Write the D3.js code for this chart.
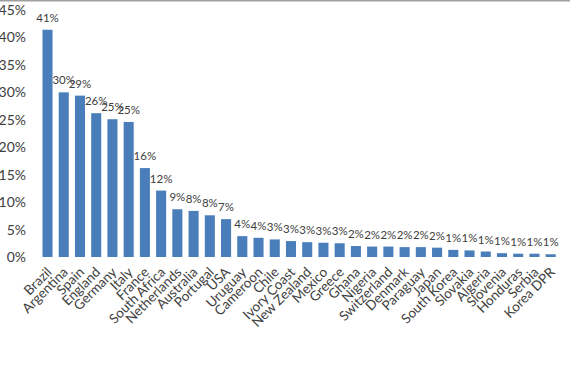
<!DOCTYPE html>
<html>
<head>
<meta charset="utf-8">
<script src="https://cdn.jsdelivr.net/npm/d3@7"></script>
<style>
  body { margin: 0; background: #fff; }
  text { font-family: Lato, "Open Sans", sans-serif; fill: #404040; }
</style>
</head>
<body>
<script>
var countries = ["Brazil","Argentina","Spain","England","Germany","Italy","France","South Africa",
  "Netherlands","Australia","Portugal","USA","Uruguay","Cameroon","Chile","Ivory Coast",
  "New Zealand","Mexico","Greece","Ghana","Nigeria","Switzerland","Denmark","Paraguay",
  "Japan","South Korea","Slovakia","Algeria","Slovenia","Honduras","Serbia","Korea DPR"];
var values = [41.4, 30.0, 29.4, 26.2, 25.1, 24.6, 16.2, 12.1,
  8.7, 8.4, 7.6, 6.9, 3.8, 3.5, 3.2, 2.9,
  2.7, 2.6, 2.5, 2.0, 1.9, 1.9, 1.8, 1.8,
  1.7, 1.3, 1.2, 1.0, 0.7, 0.6, 0.6, 0.5];
var yTicks = [0, 5, 10, 15, 20, 25, 30, 35, 40, 45];

var w = 570, h = 371;
var svg = d3.select("body").append("svg")
    .attr("width", w)
    .attr("height", h);

svg.append("rect").attr("width", w).attr("height", h).attr("fill", "#fff");
// thin grey frame line along the top
svg.append("line")
    .attr("x1", 0).attr("x2", w).attr("y1", 0.5).attr("y2", 0.5)
    .attr("stroke", "#a0a0a0").attr("stroke-width", 2);

var x = d3.scaleBand()
    .domain(countries)
    .range([39.4, 558.8])
    .paddingInner(0.38)
    .paddingOuter(0.19);

var y = d3.scaleLinear()
    .domain([0, 45])
    .range([257, 10]);

var yAxis = svg.append("g")
    .attr("transform", "translate(31,0)")
    .call(d3.axisLeft(y).tickValues(yTicks).tickSize(0).tickFormat(function(d){ return d + "%"; }));
yAxis.select(".domain").remove();
yAxis.selectAll("text")
    .attr("x", -5)
    .style("font-size", "14px")
    .style("font-family", "Lato, sans-serif")
    .attr("fill", "#404040");

svg.append("g").selectAll("rect")
    .data(values)
    .enter().append("rect")
    .attr("x", function(d, i){ return x(countries[i]); })
    .attr("y", function(d){ return y(d); })
    .attr("width", x.bandwidth())
    .attr("height", function(d){ return y(0) - y(d); })
    .attr("fill", "#4a7ebb");

svg.append("g").selectAll("text")
    .data(values)
    .enter().append("text")
    .attr("x", function(d, i){ return x(countries[i]) + x.bandwidth() / 2; })
    .attr("y", function(d){ return y(d) - 8; })
    .attr("text-anchor", "middle")
    .style("font-size", "11.5px")
    .text(function(d){ return Math.round(d) + "%"; });

var xAxis = svg.append("g")
    .attr("transform", "translate(0," + y(0) + ")")
    .call(d3.axisBottom(x).tickSize(0));
xAxis.select(".domain").remove();
xAxis.selectAll("text")
    .attr("y", 0)
    .attr("dy", 0)
    .attr("transform", "translate(5,16) rotate(-45)")
    .attr("text-anchor", "end")
    .style("font-size", "13.5px")
    .style("font-family", "Lato, sans-serif")
    .attr("fill", "#404040");
</script>
</body>
</html>
